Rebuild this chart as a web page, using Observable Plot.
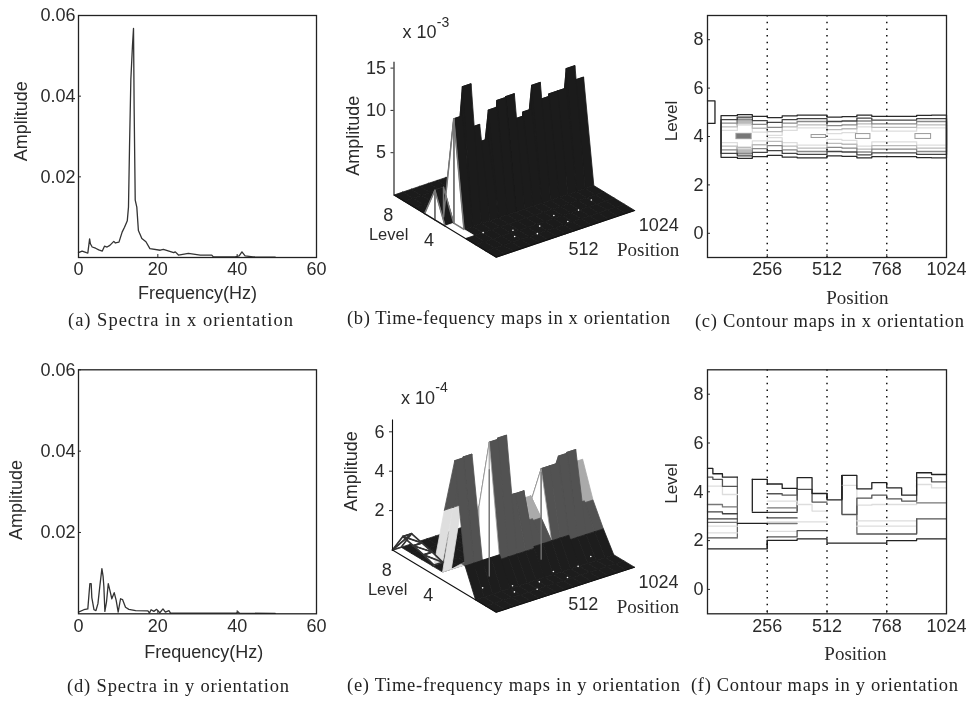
<!DOCTYPE html>
<html><head><meta charset="utf-8">
<script src="https://cdn.jsdelivr.net/npm/d3@7"></script>
<script src="https://cdn.jsdelivr.net/npm/@observablehq/plot@0.6"></script>
<style>
html,body{margin:0;padding:0;background:#fff}
#root{position:relative;width:968px;height:701px;overflow:hidden;filter:blur(.4px)}
#root svg{position:absolute;overflow:visible}
.cap{position:absolute;white-space:pre;font-family:"Liberation Serif";font-size:18.5px;line-height:20px;color:#222}
</style></head><body><div id="root"></div>
<script>
// ---------- panel (a) spectrum, x orientation
const freqA=[0,.9,2,2.35,2.8,3,3.45,4.3,5.1,6,6.55,7.2,7.9,8.9,9.3,10.2,11,11.6,12.3,12.6,12.86,13.2,13.6,13.87,14.03,14.3,14.7,15.1,15.97,17,18,20.6,21.4,24,24.4,25.2,27.7,30.7,33.6,34,39.5,40.5,41.2,42,44,49.6];
const ampA=[.00123,.0016,.0012,.0011,.0046,.0034,.0026,.0023,.0019,.0016,.0028,.0026,.003,.004,.0036,.0038,.0063,.0075,.0091,.0125,.0273,.0442,.0524,.0568,.0368,.0142,.0125,.0067,.0047,.0039,.0022,.0018,.002,.0012,.0014,.0006,.001,.0006,.0006,.00016,.00016,.0004,.0014,.0004,.00016,.0001];
// ---------- panel (d) spectrum, y orientation
const freqD=[0,1.35,2.35,2.86,3.2,3.36,3.9,4.4,4.9,5.4,5.9,6.2,6.4,6.65,7.06,7.5,7.9,8.4,9,9.5,10,10.6,11.1,11.85,12.7,14.4,17.5,17.9,18.3,19,19.7,20.5,21.3,21.9,22.8,23.2,25.7,39.8,40.2,40.6,49.6];
const ampD=[.0004,.001,.0012,.0074,.0074,.004,.001,.0008,.0025,.007,.0111,.0092,.0066,.0006,.0029,.0074,.0058,.0037,.0052,.0033,.0004,.0037,.0035,.0016,.0011,.0008,.0007,.0002,.001,.0006,.0011,.00025,.0012,.0004,.0008,.00016,.00016,.00016,.0005,.00016,.0001];
const spectrumXTicks=[0,20,40,60], spectrumYTicks=[.02,.04,.06];

// ---------- panels (b),(e) surfaces: amplitude per 64-sample block, by level
const blockEdges=[0,64,128,192,256,320,384,448,512,576,640,704,768,832,896,960,1024];
const surfB4=[0,12.35,15.8,10.65,8.6,12,12.8,12.9,9.9,10.4,13.2,11.2,11.5,11.5,13.8,12.1];
const surfB5=[3.5,0,0,0,0,0,0,0,0,0,0,0,0,0,0,0];
const surfE2=[1.4,1.4,1.4,1.4,1.15,1.15,1.15,1.15,1.25,1.25,1.25,1.25,1.0,1.0,1.0,1.0];
const surfE3=[6.43,6.48,.6,.6,6.8,6.87,3.77,3.76,2.2,2.1,4.6,4.6,4.95,5,2.25,2.15];
const surfE4=[3.6,3.6,.6,.6,3.2,3.2,2.4,2.4,2.7,2.9,2.6,2.6,3,3,3.9,3.9];
const surfE5=[.5,0,0,0,0,0,0,0,0,0,0,0,0,0,0,0];
const surfE6=[.7,0,0,0,0,0,0,0,0,0,0,0,0,0,0,0];
const surfE7=[.85,0,0,0,0,0,0,0,0,0,0,0,0,0,0,0];
const surfE8=[1,0,0,0,0,0,0,0,0,0,0,0,0,0,0,0];
const speckLevel=[1.3,1.2,0.5,0.7,1.6,1.0,0.2,2.0,0.0];
const speckPos=[600,290,250,450,900,760,620,130,380];
const surfaceLevelTicks=[8,4], surfacePosTicks=[512,1024];
const seamLevelB=[4], seamPosB=[64], seamAmpB=[12.35];
const seamLevelE=[3,3], seamPosE=[256,640], seamAmpE=[5.4,4.4];

// ---------- panel (c) contours: half-widths around level 4 for blocks 1..15
const contourEdgesC=[58,128,192,256,320,384,448,512,576,640,704,768,832,896,960,1024];
const ringC1=[.86,.9,.83,.78,.85,.88,.88,.8,.82,.88,.83,.83,.83,.87,.88];
const ringC2=[.70,.8,.66,.58,.70,.74,.74,.62,.64,.76,.68,.68,.68,.74,.74];
const ringC3=[.55,.7,.5,.38,.55,.62,.62,.45,.48,.64,.52,.52,.52,.62,.62];
const ringC4=[.4,.6,.34,.2,.4,.48,.48,.28,.32,.52,.38,.38,.38,.48,.48];
const ringC5=[.25,.5,.18,.05,.25,.36,.36,.12,.16,.4,.22,.22,.22,.36,.36];
const ringColorsC=["#2a2a2a","#444","#888","#bbb","#ddd"];
const boxStartC=[124,446,636,891], boxEndC=[189,508,698,958], boxHalfC=[.11,.06,.1,.1], boxFillC=["#777","none","none","none"];
const sideBoxPosC=[0,32,32,0], sideBoxLevelC=[5.47,5.47,4.54,4.54];
const levelTicks=[0,2,4,6,8], positionTicks=[256,512,768,1024], dottedPositions=[256,512,768];

// ---------- panel (f) contours: level per block (null = no line)
const edgesF=[0,23,64,128,192,256,320,384,448,512,576,640,704,768,832,896,960,1024];
const lineFA=[4.96,4.74,4.60,null,4.51,4.32,4.14,4.58,3.93,3.67,4.67,4.12,4.38,4.16,3.86,4.78,4.71];
const lineFB=[4.60,4.51,4.22,null,null,3.92,3.86,4.10,3.58,null,3.07,3.74,3.86,3.71,3.62,4.58,4.41];
const lineFC=[4.23,4.23,3.89,null,null,3.62,3.62,3.48,3.21,null,4.26,3.45,3.48,3.48,3.48,4.30,4.16];
const lineFD=[3.48,3.48,3.38,null,null,3.34,3.34,null,null,null,null,null,null,null,null,3.55,3.55];
const lineFE=[3.18,3.18,3.10,null,null,3.16,3.16,null,null,null,null,null,null,null,null,null,null];
const lineFF=[2.89,2.89,2.89,null,null,2.93,2.93,null,null,null,null,null,null,null,null,null,null];
const lineFG=[2.75,2.75,2.75,null,null,2.70,2.70,null,null,null,null,null,null,null,null,null,null];
const lineFH=[2.59,2.59,2.59,null,null,2.77,2.77,2.77,2.77,null,null,2.59,2.59,2.59,2.59,null,null];
const lineFI=[2.32,2.32,2.32,null,null,2.38,2.38,null,null,null,null,2.81,2.81,2.81,2.81,null,null];
const lineFJ=[2.11,2.11,2.11,null,null,2.15,2.15,2.41,2.41,null,null,2.27,2.27,2.27,2.27,2.89,2.89];
const lineFK=[1.66,1.66,1.66,1.66,1.66,2.01,2.01,2.07,2.07,1.90,1.90,1.90,1.90,2.0,2.0,2.07,2.07];
const lineFL=[null,null,null,2.71,2.71,null,null,null,null,null,null,null,null,null,null,null,null];
const lineFM=[null,null,null,null,3.16,null,null,null,null,null,null,null,null,null,null,null,null];
const linesF=[lineFC,lineFH,lineFI,lineFD,lineFG,lineFJ,lineFB,lineFF,lineFE,lineFA,lineFK,lineFL,lineFM];
const colorsF=["#ddd","#ddd","#ddd","#777","#777","#555","#555","#444","#444","#222","#222","#222","#222"];
const connPosF=[128,192,256,384,576,640,896,512,576];
const connLowF=[2.11,3.16,1.66,3.16,3.07,2.27,2.27,3.67,3.67];
const connHighF=[4.60,4.51,2.01,4.14,4.67,3.45,2.89,3.93,4.67];
const connColorF=["#666","#222","#222","#333","#333","#666","#666","#222","#222"];

// ---------- captions
const captionTexts=["(a) Spectra in x orientation","(b) Time-fequency maps in x orientation","(c) Contour maps in x orientation","(d) Spectra in y orientation","(e) Time-frequency maps in y orientation","(f) Contour maps in y orientation"];
const captionLeft=[68,347,695,67,347,691], captionCenterY=[320,318,321,686,685,685], captionWidth=[225,323,269,222,333,267];

// ---------- helpers
const root=document.getElementById("root");
const SANS="Liberation Sans", SERIF="Liberation Serif", INK="#2b2b2b";
function place(plot,left,top){plot.style.left=left+"px";plot.style.top=top+"px";root.appendChild(plot);}
const baseStyle={background:"transparent",fontFamily:SANS,fontSize:"18px",color:INK};
const f2=d3.format(".2f"), fInt=d3.format("d");

function spectrum(freq,amp,left,top,frameTop,frameBottom,labelX,labelY,freqLabelFreq,freqLabelAmp){
  const w=330,h=310;
  place(Plot.plot({width:w,height:h,marginLeft:78,marginRight:14,marginTop:frameTop,marginBottom:h-frameBottom,style:baseStyle,
    x:{domain:[0,60]},y:{domain:[0,.06]},
    marks:[
      Plot.axisX({ticks:spectrumXTicks,tickSize:-3,tickPadding:8,label:null,stroke:INK}),
      Plot.axisY({ticks:spectrumYTicks,tickSize:-3,tickPadding:6,label:null,tickFormat:f2,stroke:INK}),
      Plot.line(amp,{x:freq,y:amp,stroke:"#333",strokeWidth:1.3,curve:"linear"}),
      Plot.frame({stroke:"#222",strokeWidth:1.3}),
      Plot.text(["Amplitude"],{x:()=>labelX,y:()=>labelY,rotate:-90,fontFamily:SANS,fontSize:18,fill:INK}),
      Plot.text(["Frequency(Hz)"],{x:()=>freqLabelFreq,y:()=>freqLabelAmp,fontFamily:SANS,fontSize:18,fill:INK})
    ]}),left,top);
}

function makeProjection(g){
  const unitX=g.posDx/1024, unitY=g.zPx;
  const a=g.lvDx/10/unitX, c=g.lvDy/10/unitY, b=g.posDy/unitY/1024;
  return {g,unitX,unitY,
    X:(l,p)=>p+(9-l)*a,
    Y:(l,p,z)=>z+p*b-(9-l)*c};
}
function surfaceRows(grid,P,style){
  const rows=[];let id=0;
  const zv=(l,s)=>{const r=grid[l];return r&&s>=0?r[s]:0;};
  const pushPoly=(pts,fill,stroke)=>{
    id++;
    for(const [l,p,z] of [...pts,pts[0]]) rows.push({id,x:P.X(l,p),y:P.Y(l,p,z),f:fill,st:stroke});
  };
  for(let lb=9;lb>=0;lb--){
    const lf=lb-1;
    for(let s=15;s>=0;s--){
      const p0=blockEdges[s],p1=blockEdges[s+1];
      const q=style.face(lb,s,zv);
      const A=[lb,p0,zv(lb,s)],B=[lb,p1,zv(lb,s)],C=[lf,p1,zv(lf,s)],D=[lf,p0,zv(lf,s)];
      pushPoly([A,B,C,D],q.fill,q.stroke);
      if(q.diag) pushPoly([A,C],q.fill,q.stroke);
      const rising=zv(lb,s)>zv(lb,s-1)||zv(lf,s)>zv(lf,s-1);
      if(rising){
        const w=style.wall(lb,s,zv);
        if(w) pushPoly([[lb,p0,zv(lb,s-1)],[lb,p0,zv(lb,s)],[lf,p0,zv(lf,s)],[lf,p0,zv(lf,s-1)]],w.fill,w.stroke);
      }
    }
  }
  return rows;
}
function surfacePanel(cfg){
  const P=makeProjection(cfg.geom), g=cfg.geom;
  const W=350,H=300;
  const rows=surfaceRows(cfg.grid,P,cfg.style);
  const xl=P.X, yl=P.Y;
  const ox=g.ox-cfg.left, oy=g.oy-cfg.top;
  const text=(s,x,y,dx,dy,o={})=>Plot.text([s],{x:()=>x,y:()=>y,dx,dy,fontFamily:SANS,fontSize:18,fill:INK,...o});
  const seamRows=cfg.seamLevel.flatMap((l,i)=>[{i,x:xl(l,cfg.seamPos[i]),y:yl(l,cfg.seamPos[i],0)},{i,x:xl(l,cfg.seamPos[i]),y:yl(l,cfg.seamPos[i],cfg.seamAmp[i])}]);
  place(Plot.plot({width:W,height:H,marginLeft:ox,marginRight:0,marginTop:0,marginBottom:0,style:baseStyle,
    color:{type:"identity"},
    x:{axis:null,domain:[0,(W-ox)/P.unitX]},
    y:{axis:null,domain:[-(H-oy)/P.unitY,oy/P.unitY]},
    marks:[
      Plot.line(rows,{x:"x",y:"y",z:"id",fill:"f",stroke:"st",strokeWidth:.8,curve:"linear"}),
      Plot.line(rows.filter(r=>r.st===cfg.heavyStroke),{x:"x",y:"y",z:"id",stroke:"st",strokeWidth:cfg.heavyWidth,curve:"linear"}),
      Plot.line(seamRows,{x:"x",y:"y",z:"i",stroke:"#777",strokeWidth:1.3}),
      Plot.line([[9,0],[-1,0],[-1,1024]],{x:d=>xl(d[0],d[1]),y:d=>yl(d[0],d[1],0),stroke:"#111",strokeWidth:1.1}),
      Plot.dot(speckLevel,{x:(d,i)=>xl(d,speckPos[i]),y:(d,i)=>yl(d,speckPos[i],0),r:.8,fill:"#fff",stroke:"none"}),
      Plot.ruleX([0],{y1:0,y2:cfg.zTop,stroke:"#111",strokeWidth:1.1}),
      Plot.axisY({anchor:"left",ticks:cfg.zTicks,tickSize:3,tickPadding:5,label:null,stroke:INK}),
      text("Amplitude",0,cfg.labelZ,-41,0,{rotate:-90}),
      text("x 10",0,cfg.zTop,25.5,cfg.expDy,{}),
      text(cfg.exp,0,cfg.zTop,49,cfg.expDy-10,{fontSize:14}),
      Plot.text(surfaceLevelTicks,{x:d=>xl(d,0),y:d=>yl(d,0,0),dx:-16,dy:14,text:d=>String(d),fontFamily:SANS,fontSize:18,fill:INK}),
      text("Level",xl(6,0),yl(6,0,0),-36,21,{fontSize:16.5}),
      text("512",xl(-1,512),yl(-1,512,0),18,15),
      text("1024",xl(-1,1024),yl(-1,1024,0),24,15),
      text("Position",xl(-1,768),yl(-1,768,0),48,28,{fontFamily:SERIF,fontSize:19,letterSpacing:".06em"})
    ]}),cfg.left,cfg.top);
}

function contourBase(top,frameTop,frameBottom,marks,labelY,posY,posX){
  const w=308,h=310;
  place(Plot.plot({width:w,height:h,marginLeft:47,marginRight:22,marginTop:frameTop,marginBottom:h-frameBottom,style:baseStyle,
    x:{domain:[0,1024]},y:{domain:[-1,9]},color:{type:"identity"},
    marks:[
      ...marks,
      Plot.ruleX(dottedPositions,{stroke:"#111",strokeWidth:1.5,strokeDasharray:"1.5,5.2"}),
      Plot.axisX({ticks:positionTicks,tickSize:-3,tickPadding:8,label:null,stroke:INK,tickFormat:fInt}),
      Plot.axisY({ticks:levelTicks,tickSize:-3,tickPadding:7,label:null,stroke:INK}),
      Plot.frame({stroke:"#222",strokeWidth:1.3}),
      Plot.text(["Level"],{x:()=>-155,y:()=>labelY,rotate:-90,fontFamily:SANS,fontSize:17,fill:INK}),
      Plot.text(["Position"],{x:()=>posX,y:()=>posY,fontFamily:SERIF,fontSize:19,letterSpacing:".06em",fill:INK})
    ]}),660,top);
}

// ---------- draw (a),(d)
spectrum(freqA,ampA,0,0,15,257,-14.5,.0338,30,-.0089);
spectrum(freqD,ampD,0,350,19.3,263.3,-15.8,.0280,31.6,-.0094);

// ---------- draw (b)
surfacePanel({left:330,top:0,grid:{4:surfB4,5:surfB5},zTop:15.7,zTicks:[5,10,15],labelZ:7,exp:"-3",expDy:-30,
  heavyStroke:"#777",heavyWidth:1.5,
  seamLevel:seamLevelB,seamPos:seamPosB,seamAmp:seamAmpB,
  geom:{ox:393.5,oy:194.5,posDx:138.5,posDy:46.7,lvDx:102.2,lvDy:62.2,zPx:8.46},
  style:{
    face(lb,s){
      if(s===0&&lb<=4&&lb>=3) return {fill:"#fff",stroke:"#fff"};
      if(s===0&&lb===6) return {fill:"#666",stroke:"#666"};
      return {fill:"#1b1b1b",stroke:"#1b1b1b"};
    },
    wall(lb,s){
      return s<=1?{fill:"#fff",stroke:"#777"}:{fill:"#1b1b1b",stroke:"#1b1b1b"};
    }
  }});

// ---------- draw (e)
const styleE={
  face(lb,s,zv){
    if(s===0&&lb>=6) return {fill:"#fff",stroke:"#333",diag:true};
    if(s===0&&lb===5) return {fill:"#dedede",stroke:"#dedede"};
    if(s===0&&lb<=4&&lb>=3) return {fill:"#525252",stroke:"#525252"};
    if(lb===5) return {fill:"#dedede",stroke:"#dedede"};
    if(lb===4) return zv(4,s)>zv(3,s)?{fill:"#aaa",stroke:"#aaa"}:{fill:"#525252",stroke:"#525252"};
    if(lb===3) return {fill:"#525252",stroke:"#525252"};
    return {fill:"#1d1d1d",stroke:"#1d1d1d"};
  },
  wall(lb,s,zv){
    if(s===0) return null;
    if((s===4||s===10)&&lb>=3&&lb<=5) return {fill:"#fff",stroke:"#999"};
    return styleE.face(lb,s,zv);
  }
};
surfacePanel({left:330,top:350,grid:{2:surfE2,3:surfE3,4:surfE4,5:surfE5,6:surfE6,7:surfE7,8:surfE8},zTop:6.6,zTicks:[2,4,6],labelZ:4,exp:"-4",expDy:-22,
  heavyStroke:"#333",heavyWidth:1.7,
  seamLevel:seamLevelE,seamPos:seamPosE,seamAmp:seamAmpE,
  geom:{ox:392,oy:549.5,posDx:138.3,posDy:45,lvDx:103.7,lvDy:62.2,zPx:19.7},
  style:styleE});

// ---------- draw (c)
const ringRows=[];
[ringC1,ringC2,ringC3,ringC4,ringC5].forEach((o,k)=>{
  const forward=[],back=[];
  o.forEach((v,s)=>{
    forward.push([contourEdgesC[s],4+v],[contourEdgesC[s+1],4+v]);
    back.push([contourEdgesC[s],4-v],[contourEdgesC[s+1],4-v]);
  });
  [...forward,...back.reverse(),forward[0]].forEach(([x,y])=>ringRows.push({x,y,k:k,c:ringColorsC[k]}));
});
contourBase(0,15,257,[
  Plot.rect(boxStartC.slice(0,1),{x1:d=>d,x2:boxEndC[0],y1:4.44,y2:4.79,fill:"#bbb"}),
  Plot.rect(boxStartC.slice(0,1),{x1:d=>d,x2:boxEndC[0],y1:3.21,y2:3.56,fill:"#bbb"}),
  Plot.line(ringRows.slice().reverse(),{x:"x",y:"y",z:"k",stroke:"c",strokeWidth:1.3,curve:"linear"}),
  Plot.rect(boxStartC,{x1:d=>d,x2:(d,i)=>boxEndC[i],y1:(d,i)=>4-boxHalfC[i],y2:(d,i)=>4+boxHalfC[i],fill:(d,i)=>boxFillC[i],stroke:"#999"}),
  Plot.line(sideBoxPosC,{x:d=>d,y:(d,i)=>sideBoxLevelC[i],stroke:"#222",strokeWidth:1.3})
],4.64,-2.68,642);

// ---------- draw (f)
const fRows=[];
linesF.forEach((vals,k)=>{
  vals.forEach((v,s)=>{
    fRows.push({k,c:colorsF[k],x:edgesF[s],y:v==null?NaN:v});
    fRows.push({k,c:colorsF[k],x:edgesF[s+1],y:v==null?NaN:v});
  });
});
contourBase(350,19.3,263.3,[
  Plot.ruleX(connPosF,{x:d=>d,y1:(d,i)=>connLowF[i],y2:(d,i)=>connHighF[i],stroke:(d,i)=>connColorF[i],strokeWidth:1.3}),
  Plot.line(fRows,{x:"x",y:"y",z:"k",stroke:"c",strokeWidth:1.3,curve:"linear"})
],4.34,-2.65,634);

// ---------- captions
captionTexts.forEach((t,i)=>{
  const d=document.createElement("div");
  d.className="cap";d.textContent=t;
  d.style.left=captionLeft[i]+"px";d.style.top=(captionCenterY[i]-10)+"px";
  root.appendChild(d);
  const w=d.getBoundingClientRect().width;
  d.style.letterSpacing=((captionWidth[i]-w)/(t.length-1)).toFixed(3)+"px";
});
</script></body></html>
